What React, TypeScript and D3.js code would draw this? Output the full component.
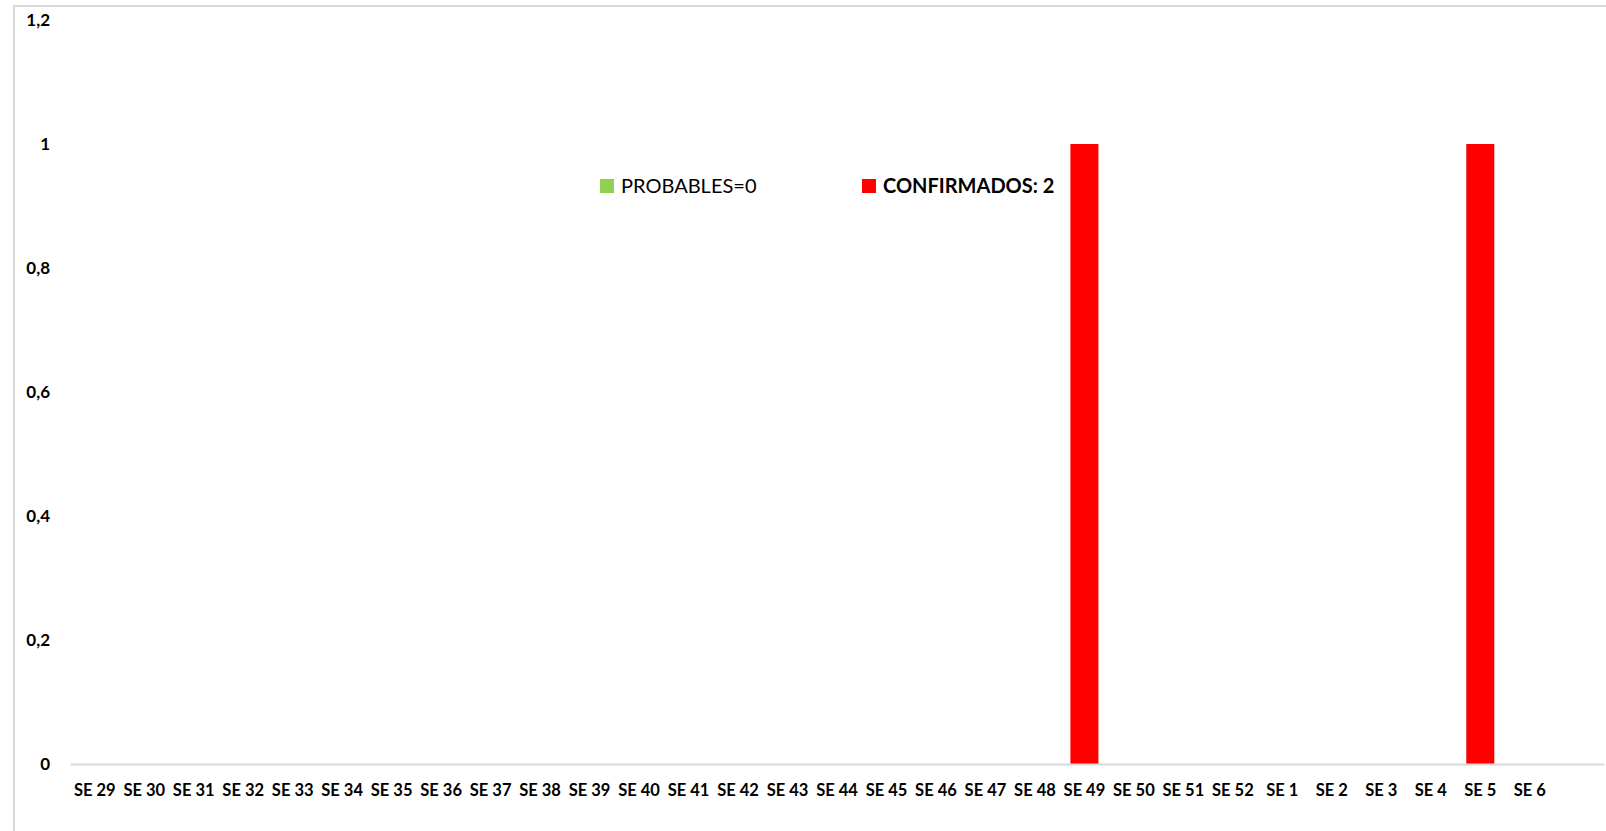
import { useEffect, useRef } from "react";
import * as d3 from "d3";

// weeks shown on the x axis (last slot is an empty category in the source chart)
const weeks = [
  "SE 29", "SE 30", "SE 31", "SE 32", "SE 33", "SE 34", "SE 35", "SE 36", "SE 37", "SE 38",
  "SE 39", "SE 40", "SE 41", "SE 42", "SE 43", "SE 44", "SE 45", "SE 46", "SE 47", "SE 48",
  "SE 49", "SE 50", "SE 51", "SE 52", "SE 1", "SE 2", "SE 3", "SE 4", "SE 5", "SE 6", "",
];

const probables = [
  0, 0, 0, 0, 0, 0, 0, 0, 0, 0, 0, 0, 0, 0, 0, 0, 0, 0, 0, 0, 0, 0, 0, 0, 0, 0, 0, 0, 0, 0, 0,
];
const confirmados = [
  0, 0, 0, 0, 0, 0, 0, 0, 0, 0, 0, 0, 0, 0, 0, 0, 0, 0, 0, 0, 1, 0, 0, 0, 0, 0, 0, 0, 1, 0, 0,
];

const yTicks = [0, 0.2, 0.4, 0.6, 0.8, 1, 1.2];

const legendItems = [
  { label: "PROBABLES=0", color: "#92d050", bold: false },
  { label: "CONFIRMADOS: 2", color: "#ff0000", bold: true },
];

const FONT = "Lato, 'Open Sans', sans-serif";

export default function App() {
  const svgRef = useRef<SVGSVGElement>(null);

  useEffect(() => {
    if (!svgRef.current) return;
    const svg = d3.select(svgRef.current);
    svg.selectAll("*").remove();

    const width = 1606;
    const height = 831;

    // outer chart frame
    svg
      .append("rect")
      .attr("x", 14)
      .attr("y", 6)
      .attr("width", width + 20)
      .attr("height", height + 20)
      .attr("fill", "#fff")
      .attr("stroke", "#d9d9d9")
      .attr("stroke-width", 2);

    const x = d3
      .scaleBand<string>()
      .domain(weeks)
      .range([70, 1604])
      .paddingInner(0.434)
      .paddingOuter(0.217);

    const y = d3.scaleLinear().domain([0, 1.2]).range([764, 20]);

    // y tick labels (no gridlines)
    svg
      .append("g")
      .selectAll("text")
      .data(yTicks)
      .join("text")
      .attr("x", 50)
      .attr("y", (d) => y(d))
      .attr("dy", "0.35em")
      .attr("text-anchor", "end")
      .attr("font-family", FONT)
      .attr("font-weight", "bold")
      .attr("font-size", 17)
      .attr("fill", "#000")
      .text((d) => d3.format(".1~f")(d).replace(".", ","));

    // probables (all zero)
    svg
      .append("g")
      .selectAll("rect")
      .data(probables.map((v, i) => ({ v, w: weeks[i] })))
      .join("rect")
      .attr("x", (d) => x(d.w)!)
      .attr("y", (d) => y(d.v))
      .attr("width", x.bandwidth())
      .attr("height", (d) => y(0) - y(d.v))
      .attr("fill", "#92d050");

    // confirmados
    svg
      .append("g")
      .selectAll("rect")
      .data(confirmados.map((v, i) => ({ v, w: weeks[i] })))
      .join("rect")
      .attr("x", (d) => x(d.w)!)
      .attr("y", (d) => y(d.v))
      .attr("width", x.bandwidth())
      .attr("height", (d) => y(0) - y(d.v))
      .attr("fill", "#ff0000");

    // x axis
    const xAxis = svg
      .append("g")
      .attr("transform", `translate(0,${y(0)})`)
      .call(d3.axisBottom(x).tickSize(0).tickPadding(32));
    xAxis.select(".domain").attr("stroke", "#d9d9d9").attr("stroke-width", 2);
    xAxis
      .selectAll("text")
      .attr("font-family", FONT)
      .attr("font-weight", "bold")
      .attr("font-size", 16.5)
      .attr("fill", "#000")
      .attr("dy", "0");

    // legend
    const legendX = [600, 862];
    legendItems.forEach((item, i) => {
      const g = svg.append("g").attr("transform", `translate(${legendX[i]},179)`);
      g.append("rect").attr("width", 14).attr("height", 14).attr("fill", item.color);
      g.append("text")
        .attr("x", 21)
        .attr("y", 7)
        .attr("dy", "0.35em")
        .attr("font-family", FONT)
        .attr("font-size", 20)
        .attr("font-weight", item.bold ? "bold" : "normal")
        .attr("fill", "#000")
        .text(item.label);
    });
  }, []);

  return (
    <svg
      ref={svgRef}
      width={1606}
      height={831}
      style={{ position: "absolute", left: 0, top: 0, background: "#fff" }}
    />
  );
}
